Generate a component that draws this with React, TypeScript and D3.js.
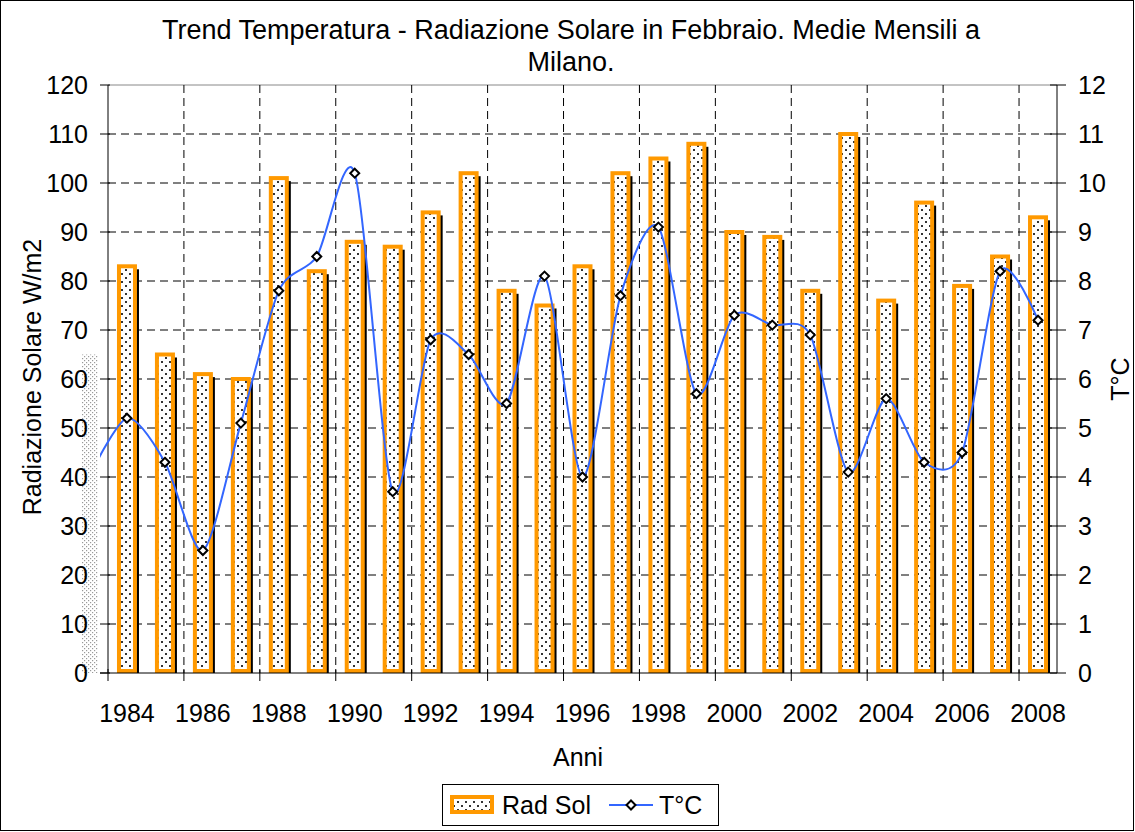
import { useEffect } from "react";
import * as d3 from "d3";

const years = [
  "1984", "1985", "1986", "1987", "1988", "1989", "1990", "1991", "1992",
  "1993", "1994", "1995", "1996", "1997", "1998", "1999", "2000", "2001",
  "2002", "2003", "2004", "2005", "2006", "2007", "2008",
];
const radSol = [
  83, 65, 61, 60, 101, 82, 88, 87, 94, 102, 78, 75, 83, 102, 105, 108, 90, 89,
  78, 110, 76, 96, 79, 85, 93,
];
const tempC = [
  5.2, 4.3, 2.5, 5.1, 7.8, 8.5, 10.2, 3.7, 6.8, 6.5, 5.5, 8.1, 4.0, 7.7, 9.1,
  5.7, 7.3, 7.1, 6.9, 4.1, 5.6, 4.3, 4.5, 8.2, 7.2,
];
// the curve enters from the left edge: an unlabelled lead-in value
const tempLeadIn = 4.0;
const leftTicks = d3.range(0, 121, 10);
const rightTicks = d3.range(0, 13, 1);

const W = 1135;
const H = 832;
const plot = { left: 108, right: 1057, top: 85, bottom: 673 };
const FONT = "Liberation Sans, Arial, sans-serif";
const FS = 25;

export default function App() {
  useEffect(() => {
    document.body.style.margin = "0";
  }, []);

  const x = d3.scaleBand().domain(years).range([plot.left, plot.right]).padding(0);
  const yL = d3.scaleLinear().domain([0, 120]).range([plot.bottom, plot.top]);
  const yR = d3.scaleLinear().domain([0, 12]).range([plot.bottom, plot.top]);
  const bw = x.bandwidth();
  const cx = (y: string) => (x(y) ?? 0) + bw / 2;
  const barW = 16;

  const pts: [number, number][] = [
    [cx(years[0]) - bw, yR(tempLeadIn)],
    ...years.map((y, i) => [cx(y), yR(tempC[i])] as [number, number]),
  ];
  const line = d3.line().curve(d3.curveCardinal.tension(0.2))(pts) ?? "";

  const boundaries = d3.range(0, years.length + 1).map((k) => plot.left + k * bw);
  const vGrid = boundaries.filter((_, k) => k % 2 === 0 && k > 0 && k < years.length);
  const xTicks = boundaries.filter((_, k) => k % 2 === 0);

  const diamond = (px: number, py: number, s = 4.5) =>
    `M${px},${py - s}L${px + s},${py}L${px},${py + s}L${px - s},${py}Z`;

  return (
    <div style={{ position: "absolute", left: 0, top: 0 }}>
      <svg width={W} height={H} style={{ display: "block", fontFamily: FONT }}>
        <defs>
          <pattern id="dots" width="8" height="8" patternUnits="userSpaceOnUse">
            <rect width="8" height="8" fill="#fff" />
            <rect x="1" y="1" width="2" height="2" fill="#333" />
            <rect x="5" y="5" width="2" height="2" fill="#333" />
          </pattern>
          <pattern id="dotsLight" width="4" height="4" patternUnits="userSpaceOnUse">
            <rect width="4" height="4" fill="#fff" />
            <rect x="0" y="0" width="1.2" height="1.2" fill="#999" />
            <rect x="2" y="2" width="1.2" height="1.2" fill="#999" />
          </pattern>
          <clipPath id="lineClip">
            <rect x={100} y={0} width={W} height={H} />
          </clipPath>
        </defs>

        <rect x={0.5} y={0.5} width={W - 2} height={H - 2} fill="#fff" stroke="#000" />

        {/* stray shaded strip left of axis */}
        <rect x={82} y={yL(65)} width={16} height={plot.bottom - yL(65)} fill="url(#dotsLight)" />

        {/* gridlines */}
        {leftTicks.filter((t) => t > 0 && t < 120).map((t) => (
          <line key={"h" + t} x1={plot.left} x2={plot.right} y1={yL(t)} y2={yL(t)}
            stroke="#000" strokeWidth={1} strokeDasharray="8,5" />
        ))}
        <line x1={plot.left} x2={plot.right} y1={plot.top} y2={plot.top} stroke="#888" strokeWidth={1} />
        {vGrid.map((v) => (
          <line key={"v" + v} x1={v} x2={v} y1={plot.top} y2={plot.bottom}
            stroke="#000" strokeWidth={1} strokeDasharray="8,5" />
        ))}

        {/* bars */}
        {years.map((y, i) => {
          const bx = cx(y) - barW / 2;
          const by = yL(radSol[i]);
          return (
            <g key={"b" + y}>
              <rect x={bx + 4} y={by + 3} width={barW} height={plot.bottom - by - 3} fill="#000" />
              <rect x={bx} y={by} width={barW} height={plot.bottom - by - 2}
                fill="url(#dots)" stroke="#FF9900" strokeWidth={4} />
            </g>
          );
        })}

        {/* axes */}
        <line x1={plot.left} x2={plot.left} y1={plot.top} y2={plot.bottom} stroke="#000" />
        <line x1={plot.right} x2={plot.right} y1={plot.top} y2={plot.bottom} stroke="#000" />
        <line x1={plot.left - 8} x2={plot.right} y1={plot.bottom} y2={plot.bottom} stroke="#000" />
        {leftTicks.map((t) => (
          <g key={"lt" + t}>
            <line x1={plot.left - 8} x2={plot.left + 2} y1={yL(t)} y2={yL(t)} stroke="#000" />
            <text x={88} y={yL(t)} dy="0.36em" textAnchor="end" fontSize={FS}>{t}</text>
          </g>
        ))}
        {rightTicks.map((t) => (
          <g key={"rt" + t}>
            <line x1={plot.right - 7} x2={plot.right + 9} y1={yR(t)} y2={yR(t)} stroke="#000" />
            <text x={1078} y={yR(t)} dy="0.36em" textAnchor="start" fontSize={FS}>{t}</text>
          </g>
        ))}
        {xTicks.map((v) => (
          <line key={"xt" + v} x1={v} x2={v} y1={plot.bottom - 4} y2={plot.bottom + 8} stroke="#000" />
        ))}
        {years.filter((_, i) => i % 2 === 0).map((y) => (
          <text key={"xl" + y} x={cx(y)} y={722} textAnchor="middle" fontSize={FS}>{y}</text>
        ))}

        {/* temperature line */}
        <path d={line} fill="none" stroke="#3366FF" strokeWidth={2} clipPath="url(#lineClip)" />
        {years.map((y, i) => (
          <path key={"m" + y} d={diamond(cx(y), yR(tempC[i]))} fill="#fff" stroke="#000" strokeWidth={2} />
        ))}

        {/* titles */}
        <text x={571} y={39} textAnchor="middle" fontSize={27}>
          Trend Temperatura - Radiazione Solare in Febbraio. Medie Mensili a
        </text>
        <text x={571} y={71} textAnchor="middle" fontSize={27}>Milano.</text>
        <text transform={`translate(41,${(plot.top + plot.bottom) / 2 - 2}) rotate(-90)`}
          textAnchor="middle" fontSize={FS}>Radiazione Solare W/m2</text>
        <text transform={`translate(1129,${(plot.top + plot.bottom) / 2}) rotate(-90)`}
          textAnchor="middle" fontSize={FS}>T°C</text>
        <text x={578} y={766} textAnchor="middle" fontSize={FS}>Anni</text>

        {/* legend */}
        <g>
          <rect x={442.5} y={784.5} width={276} height={41} fill="#fff" stroke="#000" />
          <rect x={452} y={797} width={40} height={15} fill="url(#dots)" stroke="#FF9900" strokeWidth={4} />
          <text x={502} y={814} fontSize={FS}>Rad Sol</text>
          <line x1={609} x2={653} y1={805} y2={805} stroke="#3366FF" strokeWidth={2} />
          <path d={diamond(631, 805)} fill="#fff" stroke="#000" strokeWidth={2} />
          <text x={659} y={814} fontSize={FS}>T°C</text>
        </g>
      </svg>
    </div>
  );
}
